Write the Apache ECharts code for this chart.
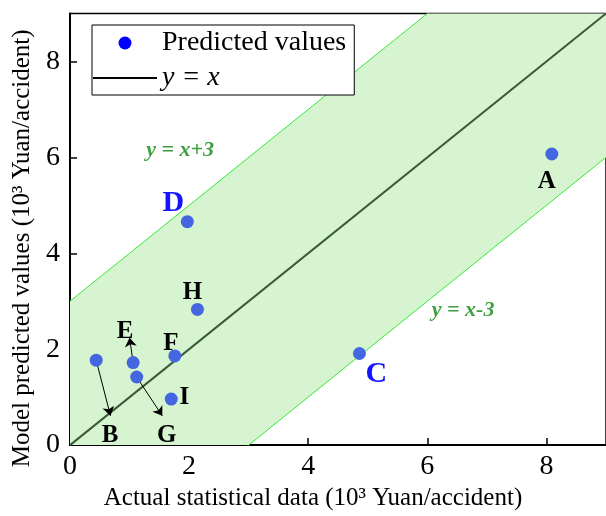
<!DOCTYPE html>
<html><head><meta charset="utf-8">
<script src="https://cdn.jsdelivr.net/npm/echarts@6/dist/echarts.min.js"></script>
<style>html,body{margin:0;padding:0;background:#fff}#chart{width:606px;height:516px}</style>
</head><body><div id="chart"></div>
<script>
// ---- data ----
const pointNames = ['A','B','C','D','E','F','G','H','I'];
const actualValues = [8.09, 0.44, 4.86, 1.97, 1.06, 1.76, 1.12, 2.14, 1.70];
const predictedValues = [6.07, 1.77, 1.91, 4.66, 1.72, 1.86, 1.42, 2.83, 0.96];
const axisMin = 0, axisMax = 9, tickInterval = 2;
const bandOffset = 3;
// arrows: from point to label (data coords)
const arrowFrom = [[0.44, 1.77], [1.06, 1.72], [1.12, 1.42]];
const arrowTo = [[0.68, 0.61], [1.00, 2.24], [1.55, 0.61]];
// band line labels
const bandLabelText = ['y = x+3', 'y = x-3'];
const bandLabelPos = [[1.85, 6.15], [6.60, 2.82]];

// ---- styles ----
const serif = "'Liberation Serif','Times New Roman',serif";
const labelOffsets = {A:[-5,28],B:[14,75],C:[17,21],D:[-14,-18],E:[-8,-31],F:[-4,-12],G:[30,59],H:[-5,-17],I:[13,-2]};
const blueLabels = ['C','D'];

const chart = echarts.init(document.getElementById('chart'));

const scatterData = pointNames.map((n, i) => {
  const blue = blueLabels.includes(n);
  return {
    name: n,
    value: [actualValues[i], predictedValues[i]],
    label: {
      show: true, formatter: n, position: 'inside', offset: labelOffsets[n],
      fontFamily: serif, fontWeight: 'bold',
      fontSize: blue ? 30 : 25, color: blue ? '#1414ff' : '#000'
    }
  };
});

const bandPolygon = [
  [axisMin, axisMin + bandOffset], [axisMax, axisMax + bandOffset],
  [axisMax, axisMax - bandOffset], [axisMin, axisMin - bandOffset]
];

chart.setOption({
  animation: false,
  backgroundColor: '#fff',
  grid: {left: 70, right: 0, top: 13.5, bottom: 68, show: true, borderColor: '#000', borderWidth: 1.5, backgroundColor: 'transparent'},
  xAxis: {
    type: 'value', min: axisMin, max: axisMax, interval: tickInterval,
    name: 'Actual statistical data (10³ Yuan/accident)', nameLocation: 'middle', nameGap: 40,
    nameTextStyle: {fontFamily: serif, fontSize: 25, color: '#000', padding: [0, 50, 0, 0]},
    axisLine: {show: true, onZero: false, lineStyle: {color: '#000', width: 2}},
    axisTick: {show: true, inside: true, length: 7, lineStyle: {color: '#000', width: 1.5}},
    axisLabel: {fontFamily: serif, fontSize: 28, color: '#000', margin: 8, showMaxLabel: false},
    splitLine: {show: false}
  },
  yAxis: {
    type: 'value', min: axisMin, max: axisMax, interval: tickInterval,
    name: 'Model predicted values (10³ Yuan/accident)', nameLocation: 'middle', nameGap: 34,
    nameTextStyle: {fontFamily: serif, fontSize: 25, color: '#000', padding: [0, 38, 0, 0]},
    axisLine: {show: true, onZero: false, lineStyle: {color: '#000', width: 2}},
    axisTick: {show: true, inside: true, length: 7, lineStyle: {color: '#000', width: 1.5}},
    axisLabel: {fontFamily: serif, fontSize: 28, color: '#000', margin: 10, showMaxLabel: false},
    splitLine: {show: false}
  },
  legend: {
    orient: 'vertical', left: 92, top: 25, padding: [4, 8, 3, 1], itemGap: 7,
    itemWidth: 64, itemHeight: 13,
    backgroundColor: '#fff', borderColor: '#000', borderWidth: 1,
    textStyle: {fontFamily: serif, fontSize: 28, color: '#000'},
    data: [
      {name: 'Predicted values', icon: 'circle', itemStyle: {color: '#0000ff'}},
      {name: 'y = x', icon: 'path://M0,0 L64,0 L64,2 L0,2 Z', itemStyle: {color: '#000'}, textStyle: {fontStyle: 'italic'}}
    ]
  },
  series: [
    {
      type: 'custom', name: 'band', z: 1, clip: true, silent: true,
      data: [0],
      renderItem: (params, api) => ({
        type: 'polygon',
        shape: {points: bandPolygon.map(p => api.coord(p))},
        style: {fill: '#d7f4d1'}
      })
    },
    {
      type: 'line', name: 'y = x+3', symbol: 'none', z: 2, silent: true,
      lineStyle: {color: '#33e833', width: 1},
      data: [[axisMin, axisMin + bandOffset], [axisMax, axisMax + bandOffset]]
    },
    {
      type: 'line', name: 'y = x-3', symbol: 'none', z: 2, silent: true,
      lineStyle: {color: '#33e833', width: 1},
      data: [[axisMin, axisMin - bandOffset], [axisMax, axisMax - bandOffset]]
    },
    {
      type: 'line', name: 'y = x', symbol: 'none', z: 3,
      itemStyle: {color: '#000'},
      lineStyle: {color: '#3b5a3b', width: 2},
      data: [[axisMin, axisMin], [axisMax, axisMax]]
    },
    {
      type: 'scatter', name: 'bandLabels', symbolSize: 0, z: 4, silent: true,
      data: bandLabelText.map((t, i) => ({
        value: bandLabelPos[i],
        label: {show: true, formatter: t, position: 'inside', fontFamily: serif, fontSize: 22,
                fontWeight: 'bold', fontStyle: 'italic', color: '#0e870e'}
      }))
    },
    {
      type: 'scatter', name: 'arrows', symbolSize: 0, z: 4, silent: true,
      data: [[axisMin, axisMin]],
      markLine: {
        silent: true, symbol: ['none', 'arrow'], symbolSize: 9,
        label: {show: false},
        lineStyle: {color: '#000', width: 1, type: 'solid'},
        itemStyle: {color: '#000'},
        data: arrowFrom.map((f, i) => [{coord: f}, {coord: arrowTo[i]}])
      }
    },
    {
      type: 'scatter', name: 'Predicted values', symbolSize: 13, z: 5,
      itemStyle: {color: '#4466e0', opacity: 1},
      data: scatterData
    }
  ]
});
</script></body></html>
